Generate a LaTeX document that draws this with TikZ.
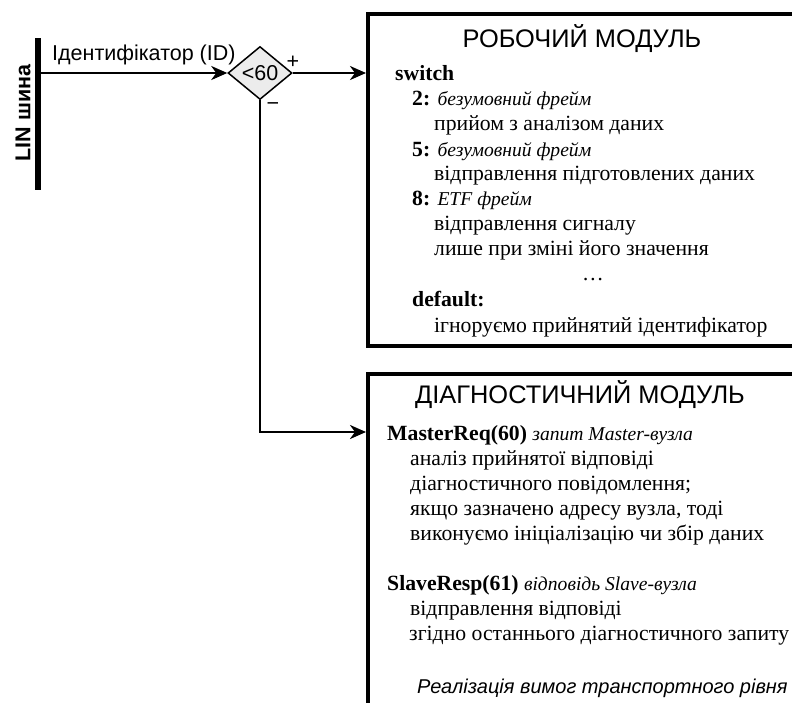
\documentclass[tikz,border=0pt]{standalone}
\usepackage{fontspec}
\setmainfont{Liberation Serif}
\setsansfont{Liberation Sans}
\usetikzlibrary{arrows.meta,shapes.geometric}
\newcommand\notetxt[1]{{\fontsize{19.6}{22}\selectfont\itshape #1}}
\tikzset{
  conn/.style={line width=2.6pt},
  arr/.style={conn,-{Stealth[length=16pt,width=14pt,inset=5pt]}},
  modbox/.style={draw,line width=3.6pt,rectangle,inner sep=0pt,anchor=north west},
  body/.style={anchor=base west,inner sep=0pt,font=\fontsize{21.7}{25}\selectfont},
  title/.style={anchor=base,inner sep=0pt,font=\sffamily\fontsize{25.4}{30}\selectfont},
  sans/.style={inner sep=0pt,font=\sffamily\fontsize{21.5}{25}\selectfont},
}
\begin{document}
\begin{tikzpicture}[x=1pt,y=-1pt]
\useasboundingbox (0,0) rectangle (792,702);
\clip (0,0) rectangle (792,702);
\node[modbox, minimum width=460pt, minimum height=332pt] (work) at (366,12) {};
\node[modbox, minimum width=460pt, minimum height=360pt] (diag) at (366,372) {};
\node[fill=black,inner sep=0pt,minimum width=5.5pt,minimum height=152pt,anchor=north] (bus) at (38,38) {};
\node[diamond,draw,line width=1.5pt,fill=gray!15,sans,minimum width=64pt,minimum height=53pt] (dia) at (260,73) {<60};
\coordinate (diagin) at (366,432);
\draw[arr] (bus.east |- dia.west) -- (dia.west);
\draw[arr] (dia.east) -- (dia.east -| work.west);
\draw[arr] (dia.south) |- (diagin);
\node[sans, anchor=base west] (idl) at (52,60) {Ідентифікатор (ID)};
\node[sans] (plus) at (293,62) {+};
\node[sans] (minus) at (273,107) {−};
\node[inner sep=0pt, font=\sffamily\bfseries\fontsize{21.5}{25}\selectfont, rotate=90] (lin) at (23,113) {LIN шина};
\node[title] (wt) at (582,47) {РОБОЧИЙ МОДУЛЬ};
\node[body] (w1) at (395,80) {\textbf{switch}};
\node[body] (w2) at (412,105) {\textbf{2:} \notetxt{безумовний фрейм}};
\node[body] (w3) at (434,130) {прийом з аналізом даних};
\node[body] (w4) at (412,156) {\textbf{5:} \notetxt{безумовний фрейм}};
\node[body] (w5) at (434,180) {відправлення підготовлених даних};
\node[body] (w6) at (412,205) {\textbf{8:} \notetxt{ETF фрейм}};
\node[body] (w7) at (434,230) {відправлення сигналу};
\node[body] (w8) at (434,255) {лише при зміні його значення};
\node[body, anchor=base] (w9) at (593,280) {\ldots};
\node[body] (w10) at (412,306) {\textbf{default:}};
\node[body] (w11) at (434,332) {ігноруємо прийнятий ідентифікатор};
\node[title] (dt) at (580,403) {ДІАГНОСТИЧНИЙ МОДУЛЬ};
\node[body] (d1) at (387,440) {\textbf{MasterReq(60)} \notetxt{запит Master-вузла}};
\node[body] (d2) at (410,465) {аналіз прийнятої відповіді};
\node[body] (d3) at (410,490) {діагностичного повідомлення;};
\node[body] (d4) at (410,515) {якщо зазначено адресу вузла, тоді};
\node[body] (d5) at (410,540) {виконуємо ініціалізацію чи збір даних};
\node[body] (d6) at (387,590) {\textbf{SlaveResp(61)} \notetxt{відповідь Slave-вузла}};
\node[body] (d7) at (410,615) {відправлення відповіді};
\node[body] (d8) at (409,640) {згідно останнього діагностичного запиту};
\node[inner sep=0pt, anchor=base west, font=\sffamily\itshape\fontsize{20}{24}\selectfont] (d9) at (417,693) {Реалізація вимог транспортного рівня};
\end{tikzpicture}
\end{document}
